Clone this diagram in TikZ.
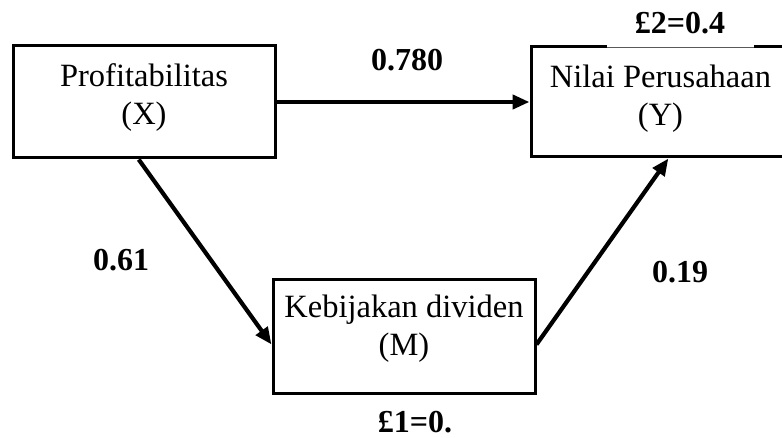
\documentclass[tikz,border=0pt]{standalone}
\usepackage{fontspec}
\setmainfont{Liberation Serif}
\usetikzlibrary{arrows.meta,calc}
\begin{document}
\begin{tikzpicture}[x=1pt,y=-1pt,
  varbox/.style={draw=black,line width=3pt,fill=white,inner sep=0pt},
  vartext/.style={align=center,inner sep=0pt,font=\fontsize{32.5}{38}\selectfont},
  path arrow/.style={line width=4.2pt,-{Triangle[length=17pt,width=14pt]}},
  coef/.style={font=\fontsize{32}{36}\bfseries\selectfont,inner sep=0pt}]
\useasboundingbox (0,0) rectangle (782,438);
\node[varbox,minimum width=262pt,minimum height=112pt] (X) at (144,102) {};
\node[varbox,minimum width=259pt,minimum height=110pt] (Y) at (660.5,102) {};
\node[varbox,minimum width=262pt,minimum height=113pt] (M) at (404,336.5) {};
\node[vartext] (Xt) at (144,97.5) {Profitabilitas\\(X)};
\node[vartext] (Yt) at (660.5,98.5) {Nilai Perusahaan\\(Y)};
\node[vartext] (Mt) at (404,329) {Kebijakan dividen\\(M)};
\draw[path arrow] (X.east) -- (Y.west);
\draw[path arrow] ($(X.south west)!0.48!(X.south east)$) -- ([yshift=-8pt]M.west);
\draw[path arrow] ([yshift=-8pt]M.east) -- ($(Y.south west)!0.53!(Y.south east)$);
\node[coef] (c1) at (407,60) {0.780};
\node[coef] (c2) at (121,260) {0.61};
\node[coef] (c3) at (680,272) {0.19};
\node[coef] (e1) at (415,422) {£1=0.};
\fill[white] (607,-2) rectangle (754,47.3);
\draw[gray!70!black,line width=0.8pt] (607,47.3) -- (754,47.3);
\node[coef] (e2) at (680,23) {£2=0.4};
\end{tikzpicture}
\end{document}
